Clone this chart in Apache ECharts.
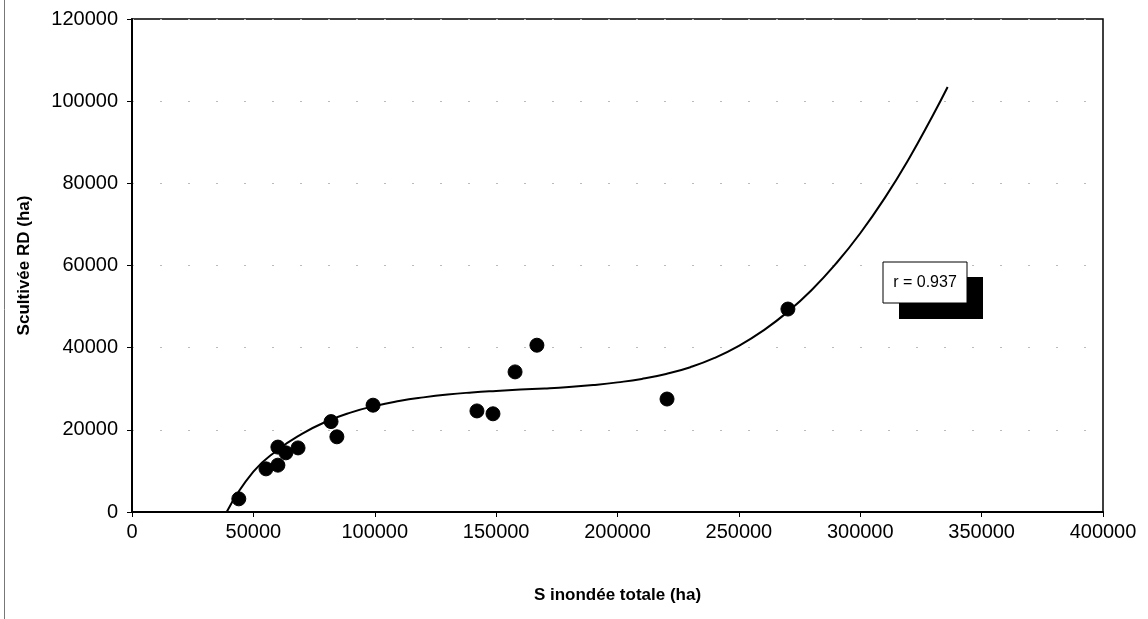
<!DOCTYPE html>
<html>
<head>
<meta charset="utf-8">
<script src="https://cdn.jsdelivr.net/npm/echarts@6/dist/echarts.min.js"></script>
<style>
html,body{margin:0;padding:0;background:#fff;}
#chart{width:1148px;height:619px;}
</style>
</head>
<body>
<div id="chart"></div>
<script>
// Observed points: S inondée totale (ha) vs S cultivée RD (ha)
const xValues = [44000, 55200, 60100, 60100, 63400, 68400, 82000, 84400, 99300, 142100, 148700, 157800, 166800, 220400, 270200];
const yValues = [3200, 10500, 11400, 15800, 14400, 15600, 22000, 18300, 26000, 24600, 23900, 34100, 40600, 27500, 49400];

// Polynomial trend curve
const trendX = [39000, 50000, 60000, 70000, 80000, 90000, 100000, 110000, 120000, 130000, 140000, 150000, 160000, 170000, 180000, 190000, 200000, 210000, 220000, 230000, 240000, 250000, 260000, 270000, 280000, 290000, 300000, 310000, 320000, 330000, 336000];
const trendY = [0, 9800, 15100, 19000, 22000, 24200, 25800, 27000, 27900, 28600, 29100, 29480, 29800, 30050, 30400, 30900, 31550, 32400, 33600, 35250, 37500, 40450, 44150, 48650, 54050, 60450, 67850, 76350, 85950, 96650, 103450];

const xTicks = [0, 50000, 100000, 150000, 200000, 250000, 300000, 350000, 400000];
const yTicks = [0, 20000, 40000, 60000, 80000, 100000, 120000];
const rLabel = 'r = 0.937';

const chart = echarts.init(document.getElementById('chart'), null, {renderer: 'canvas'});
const font = 'Liberation Sans, Arial, sans-serif';

chart.setOption({
  animation: false,
  backgroundColor: '#fff',
  grid: {left: 132, right: 45, top: 19, bottom: 107, show: true, borderColor: '#000', borderWidth: 1.5, backgroundColor: 'transparent'},
  xAxis: {
    type: 'value', min: xTicks[0], max: xTicks[xTicks.length - 1], interval: 50000,
    name: 'S inondée totale (ha)', nameLocation: 'middle', nameGap: 75,
    nameTextStyle: {fontFamily: font, fontWeight: 'bold', fontSize: 17, color: '#000'},
    axisLine: {onZero: false, lineStyle: {color: '#000', width: 2}},
    axisTick: {show: true, inside: false, length: 5, lineStyle: {color: '#000', width: 1}},
    axisLabel: {fontFamily: font, fontSize: 20, color: '#000', margin: 10, formatter: v => String(v)},
    splitLine: {show: false}
  },
  yAxis: {
    type: 'value', min: yTicks[0], max: yTicks[yTicks.length - 1], interval: 20000,
    name: 'Scultivée RD (ha)', nameLocation: 'middle', nameGap: 99, nameRotate: 90,
    nameTextStyle: {fontFamily: font, fontWeight: 'bold', fontSize: 17, color: '#000'},
    axisLine: {onZero: false, lineStyle: {color: '#000', width: 2}},
    axisTick: {show: true, inside: false, length: 5, lineStyle: {color: '#000', width: 1}},
    axisLabel: {fontFamily: font, fontSize: 20, color: '#000', margin: 14, formatter: v => String(v)},
    splitLine: {show: true, lineStyle: {color: '#bbb', width: 1, type: [2, 26]}}
  },
  series: [
    {
      type: 'line', data: trendX.map((x, i) => [x, trendY[i]]),
      smooth: true, showSymbol: false, symbol: 'none',
      lineStyle: {color: '#000', width: 2}, z: 2
    },
    {
      type: 'scatter', data: xValues.map((x, i) => [x, yValues[i]]),
      symbol: 'circle', symbolSize: 14,
      itemStyle: {color: '#000', borderColor: '#000', borderWidth: 1, opacity: 1}, z: 3
    }
  ],
  graphic: [
    {type: 'line', shape: {x1: 4.5, y1: 0, x2: 4.5, y2: 619}, style: {stroke: '#777', lineWidth: 1}},
    {type: 'rect', shape: {x: 899, y: 277, width: 84, height: 42}, style: {fill: '#000'}, z: 10},
    {type: 'rect', shape: {x: 883, y: 262, width: 84, height: 41}, style: {fill: '#fff', stroke: '#000', lineWidth: 1}, z: 11},
    {type: 'text', x: 925, y: 283, style: {text: rLabel, font: '16px ' + font, fill: '#000', align: 'center', verticalAlign: 'middle'}, z: 12}
  ]
});
</script>
</body>
</html>
